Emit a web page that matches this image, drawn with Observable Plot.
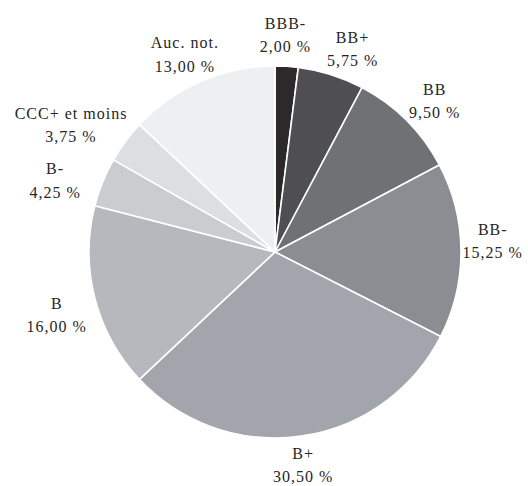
<!DOCTYPE html>
<html>
<head>
<meta charset="utf-8">
<script src="https://cdn.jsdelivr.net/npm/d3@7"></script>
<script src="https://cdn.jsdelivr.net/npm/@observablehq/plot@0.6"></script>
<style>
  html, body { margin: 0; padding: 0; background: #fff; }
  #chart { width: 528px; height: 486px; }
</style>
</head>
<body>
<div id="chart"></div>
<script>
// Data (clockwise from 12 o'clock)
const ratings = ["BBB-", "BB+", "BB", "BB-", "B+", "B", "B-", "CCC+ et moins", "Auc. not."];
const shares  = [2.00, 5.75, 9.50, 15.25, 30.50, 16.00, 4.25, 3.75, 13.00];
const greys   = ["#2b292a", "#4f4f53", "#6f7175", "#8b8d93", "#a3a5ac", "#b6b8bd", "#cbccd0", "#dddee1", "#eeeff1"];

// Layout
const W = 528, H = 486;
const CX = 275, CY = 252, R = 186;
// label placement: radial factor and angular nudge (degrees), per slice
const labelK     = [1.18, 1.18, 1.19, 1.17, 1.14, 1.22, 1.25, 1.30, 1.18];
const labelNudge = [-1, 3, 1, -3, 0.6, -1, -3.5, -4.2, -1];

const rows = ratings.map((r, i) => ({rating: r, share: shares[i], k: labelK[i], nudge: labelNudge[i] * Math.PI / 180}));
const arcs = d3.pie().sort(null).value(d => d.share)(rows);
rows.forEach((d, i) => {
  d.start = arcs[i].startAngle;
  d.end = arcs[i].endAngle;
  d.mid = (arcs[i].startAngle + arcs[i].endAngle) / 2;
});
const fmt = v => v.toFixed(2).replace(".", ",") + " %";

const pie = Plot.dot(rows, {
  x: () => CX,
  y: () => CY,
  fill: "rating",
  render(index, scales, values) {
    const cx = scales.x(CX), cy = scales.y(CY);
    const r = Math.abs(scales.x(CX + R) - scales.x(CX));
    const arc = d3.arc().innerRadius(0).outerRadius(r);
    const g = d3.create("svg:g");
    g.selectAll("path")
      .data(Array.from(index))
      .join("path")
      .attr("transform", `translate(${cx},${cy})`)
      .attr("d", i => arc({startAngle: rows[i].start, endAngle: rows[i].end}))
      .attr("fill", i => values.fill[i])
      .attr("stroke", "#fff")
      .attr("stroke-width", 1.6)
      .attr("stroke-linejoin", "round");
    return g.node();
  }
});

const labels = Plot.text(rows, {
  x: d => CX + d.k * R * Math.sin(d.mid + d.nudge),
  y: d => CY - d.k * R * Math.cos(d.mid + d.nudge),
  text: d => `${d.rating}\n${fmt(d.share)}`,
  lineHeight: 1.45,
  fill: "#262626",
  textAnchor: "middle"
});

const chart = Plot.plot({
  width: W,
  height: H,
  margin: 0,
  x: {domain: [0, W], range: [0, W], axis: null},
  y: {domain: [0, H], range: [0, H], axis: null},
  color: {domain: ratings, range: greys},
  style: {fontFamily: "'Liberation Serif', 'DejaVu Serif', serif", fontSize: "16px", letterSpacing: "1px", background: "#fff"},
  marks: [pie, labels]
});
document.getElementById("chart").appendChild(chart);
</script>
</body>
</html>
